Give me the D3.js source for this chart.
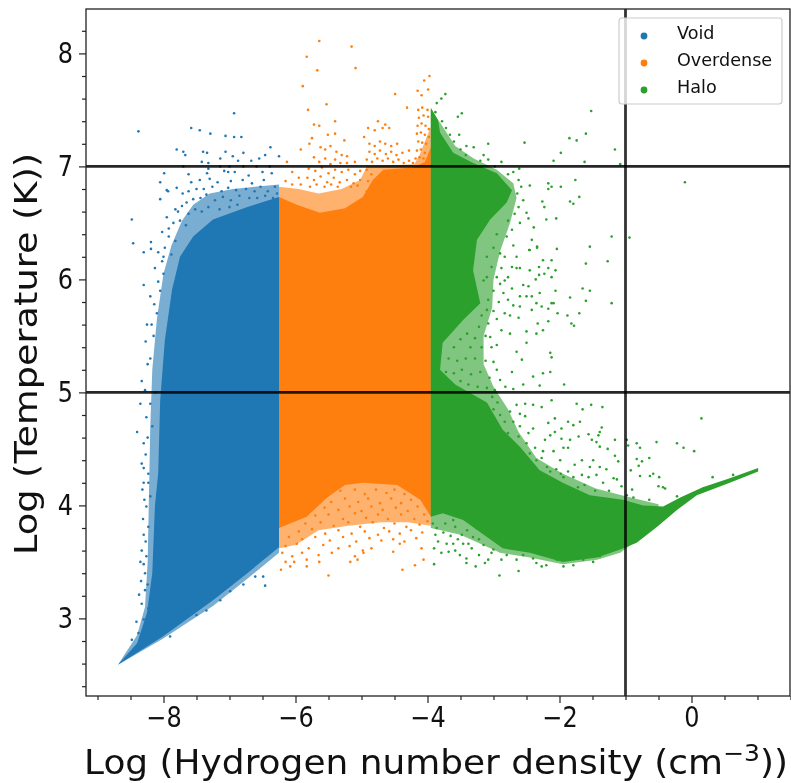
<!DOCTYPE html>
<html><head><meta charset="utf-8">
<script src="https://cdnjs.cloudflare.com/ajax/libs/d3/7.8.5/d3.min.js"></script>
<style>html,body{margin:0;padding:0;background:#fff}svg{display:block;filter:blur(0.5px)}text{font-family:"DejaVu Sans",sans-serif;fill:#111}</style>
</head><body><div id="c"></div>
<script>
const legendLabels=["Void","Overdense","Halo"];
const seriesColors=["#1f77b4","#ff7f0e","#2ca02c"];
const xMajor=[-8,-6,-4,-2,0];
const yMajor=[3,4,5,6,7,8];
const xMinor=[-9,-8.5,-7.5,-7,-6.5,-5.5,-5,-4.5,-3.5,-3,-2.5,-1.5,-1,-0.5,0.5,1,1.5];
const yMinor=[2.4,2.6,2.8,3.2,3.4,3.6,3.8,4.2,4.4,4.6,4.8,5.2,5.4,5.6,5.8,6.2,6.4,6.6,6.8,7.2,7.4,7.6,7.8,8.2];
const hLines=[7,5];
const vLines=[-1];
const voidEnvelope=[[-8.69,2.59],[-8.40,2.78],[-8.25,3.05],[-8.17,3.40],[-8.13,3.99],[-8.08,4.29],[-8.05,4.93],[-7.98,5.46],[-7.87,5.91],[-7.75,6.20],[-7.55,6.38],[-7.25,6.53],[-6.73,6.64],[-6.25,6.73],[-6.25,3.63],[-6.73,3.40],[-7.25,3.16],[-8.01,2.84]];
const voidFringe=[[-8.69,2.59],[-8.40,2.85],[-8.28,3.10],[-8.24,3.50],[-8.22,4.10],[-8.20,4.70],[-8.17,5.20],[-8.10,5.65],[-8.00,6.05],[-7.88,6.30],[-7.72,6.52],[-7.55,6.66],[-7.30,6.76],[-6.95,6.80],[-6.25,6.84],[-6.25,3.58],[-6.73,3.35],[-7.25,3.11],[-8.01,2.82]];
const overdenseEnvelope=[[-6.25,6.73],[-5.98,6.66],[-5.63,6.59],[-5.25,6.63],[-4.98,6.73],[-4.83,6.88],[-4.67,6.97],[-4.22,6.99],[-4.04,7.04],[-3.95,7.17],[-3.95,3.90],[-4.11,4.05],[-4.46,4.18],[-4.98,4.20],[-5.25,4.18],[-5.52,4.07],[-5.83,3.90],[-6.25,3.80]];
const overdenseFringe=[[-6.25,6.82],[-5.95,6.80],[-5.65,6.76],[-5.30,6.80],[-5.02,6.88],[-4.92,7.00],[-4.20,7.02],[-4.12,7.10],[-3.95,7.35],[-3.95,3.82],[-4.30,3.85],[-4.70,3.85],[-5.20,3.82],[-5.65,3.78],[-6.00,3.65],[-6.25,3.62]];
const haloEnvelope=[[-3.95,7.52],[-3.84,7.41],[-3.81,7.30],[-3.61,7.12],[-3.31,7.03],[-2.95,6.94],[-2.72,6.79],[-2.80,6.68],[-3.05,6.53],[-3.25,6.35],[-3.31,6.08],[-3.20,5.79],[-3.46,5.64],[-3.77,5.44],[-3.81,5.20],[-3.58,5.07],[-3.10,4.91],[-2.86,4.67],[-2.60,4.52],[-2.30,4.31],[-1.95,4.20],[-1.54,4.09],[-1.04,4.05],[-0.73,4.00],[-0.43,3.99],[-0.17,4.07],[0.17,4.16],[0.58,4.24],[1.01,4.33],[1.01,4.30],[0.58,4.20],[0.08,4.09],[-0.22,3.96],[-0.52,3.81],[-0.83,3.67],[-1.08,3.61],[-1.43,3.54],[-1.95,3.50],[-2.45,3.58],[-2.86,3.62],[-3.10,3.72],[-3.46,3.87],[-3.77,3.93],[-3.95,3.90]];
const haloFringe=[[-3.95,7.50],[-3.80,7.38],[-3.58,7.18],[-3.30,7.07],[-2.95,6.97],[-2.70,6.85],[-2.65,6.72],[-2.75,6.50],[-2.90,6.25],[-3.00,6.00],[-3.02,5.75],[-3.15,5.50],[-3.15,5.25],[-3.00,5.05],[-2.78,4.85],[-2.62,4.65],[-2.35,4.42],[-1.95,4.28],[-1.45,4.15],[-1.00,4.08],[-0.50,4.01],[-0.50,3.83],[-1.08,3.58],[-1.43,3.52],[-1.95,3.48],[-2.45,3.54],[-2.90,3.58],[-3.20,3.66],[-3.50,3.74],[-3.95,3.80]];
const voidPoints=[[-8.38,7.31],[-7.58,7.34],[-7.45,7.32],[-7.29,7.29],[-6.93,7.47],[-7.06,7.27],[-6.93,7.26],[-6.82,7.26],[-7.80,7.15],[-7.70,7.13],[-7.67,7.10],[-7.40,7.13],[-7.34,7.12],[-7.06,7.13],[-6.95,7.09],[-6.79,7.12],[-6.38,7.17],[-6.46,7.10],[-6.55,7.07],[-6.25,7.09],[-6.67,7.05],[-6.87,7.05],[-7.42,7.04],[-7.32,7.03],[-7.14,7.07],[-7.70,7.00],[-7.32,6.98],[-7.14,7.00],[-7.00,7.00],[-6.79,7.00],[-6.59,7.00],[-6.39,7.00],[-7.99,6.94],[-8.05,6.86],[-7.95,6.79],[-7.93,6.78],[-7.80,6.81],[-7.71,6.76],[-8.05,6.71],[-8.48,6.53],[-8.46,6.32],[-8.19,6.33],[-8.19,6.27],[-8.30,6.24],[-8.08,6.24],
[-7.62,6.93],[-7.34,6.94],[-7.08,6.96],[-7.02,6.95],[-6.92,6.95],[-6.71,6.92],[-6.50,6.95],[-6.36,6.94],[-7.58,6.86],[-7.45,6.88],[-7.30,6.89],[-7.18,6.86],[-6.98,6.87],[-6.80,6.88],[-6.66,6.85],[-6.48,6.88],[-6.31,6.82],[-7.62,6.78],[-7.50,6.80],[-7.39,6.80],[-7.26,6.82],[-7.12,6.78],[-7.02,6.81],[-6.90,6.79],[-6.75,6.80],[-6.62,6.78],[-6.53,6.82],[-6.42,6.78],[-6.28,6.76],[-7.65,6.68],[-7.55,6.71],[-7.44,6.72],[-7.35,6.75],[-7.22,6.70],[-7.10,6.73],[-6.98,6.70],[-6.85,6.74],[-6.70,6.72],[-6.58,6.72],[-6.46,6.74],[-6.34,6.72],[-7.82,6.62],[-7.72,6.65],[-7.62,6.58],[-7.52,6.62],[-7.42,6.60],[-7.32,6.64],[-7.15,6.62],[-7.00,6.64],[-6.88,6.66],[-7.95,6.55],[-7.85,6.50],[-7.75,6.52],[-7.66,6.48],[-8.02,6.42],[-7.92,6.38],[-7.82,6.34],[-7.98,6.28],[-7.88,6.22],[-8.02,6.16],[-8.13,6.10],[-8.00,6.05],[-8.05,5.90],[-8.30,5.95],[-8.20,5.85],[-8.10,5.70],[-8.25,5.60],[-8.15,5.50],[-8.20,5.30],[-8.33,5.10],[-8.35,4.90],[-8.12,5.00],[-8.20,4.90],[-8.17,4.70],[-8.40,4.65],[-8.30,4.55],[-8.33,4.37],[-8.30,4.33],[-8.23,4.28],[-8.32,4.14],[-8.23,4.20],[-8.26,3.99],[-8.20,4.08],[-8.23,3.81],[-8.27,3.68],[-8.35,3.50],[-8.26,3.55],[-8.28,3.40],[-8.37,3.21],[-8.28,3.25],[-8.33,3.13],[-8.23,3.09],[-8.41,2.97],[-8.38,2.87],[-8.30,2.99],[-8.48,2.81],[-7.90,2.84],[-7.50,3.03],[-7.35,3.07],[-7.14,3.16],[-6.99,3.24],[-6.79,3.30],[-6.61,3.37],[-6.46,3.29],[-6.49,3.37],[-6.74,3.46],[-6.54,3.58],[-6.39,3.59],[-6.29,3.67],
[-8.27,5.45],[-8.24,5.25],[-8.28,5.02],[-8.26,4.78],[-8.24,4.60],[-8.27,4.45],[-8.30,4.20],[-8.29,4.05],[-8.31,3.88],[-8.30,3.74],[-8.33,3.60],[-8.30,3.48],[-8.34,3.33],[-8.24,3.30],[-8.18,5.60],[-8.14,5.78],[-8.08,5.98],[-8.00,6.20],[-7.92,6.45],[-7.78,6.60]];
const overdensePoints=[[-5.64,8.11],[-5.15,8.06],[-5.83,7.97],[-5.67,7.85],[-5.09,7.87],[-5.89,7.71],[-5.81,7.50],[-5.53,7.55],[-5.40,7.40],[-5.72,7.37],[-5.64,7.36],[-5.51,7.28],[-5.40,7.29],[-5.26,7.23],[-5.75,7.25],[-5.79,7.20],[-5.92,7.15],[-6.13,7.04],[-4.49,7.64],[-4.31,7.52],[-3.97,7.80],[-4.05,7.76],[-4.15,7.67],[-3.99,7.68],[-4.09,7.63],[-4.75,7.40],[-4.64,7.37],[-4.90,7.34],[-4.80,7.32],[-4.58,7.34],[-4.68,7.34],[-4.96,7.26],
[-4.14,7.50],[-4.08,7.52],[-4.00,7.50],[-4.13,7.43],[-4.06,7.45],[-3.99,7.44],[-4.15,7.36],[-4.09,7.38],[-4.03,7.36],[-3.98,7.33],[-4.16,7.29],[-4.10,7.30],[-4.04,7.28],[-3.98,7.26],[-4.14,7.22],[-4.08,7.21],[-4.02,7.20],[-4.16,7.14],[-4.10,7.15],[-4.04,7.12],[-4.18,7.07],[-4.12,7.08],[-4.06,7.07],[-4.88,7.20],[-4.80,7.18],[-4.72,7.22],[-4.64,7.20],[-4.55,7.18],[-4.46,7.20],[-4.88,7.13],[-4.80,7.11],[-4.72,7.14],[-4.63,7.11],[-4.55,7.13],[-4.47,7.10],[-4.38,7.12],[-4.28,7.14],[-4.92,7.06],[-4.84,7.04],[-4.76,7.07],[-4.68,7.05],[-4.60,7.07],[-4.52,7.04],[-4.44,7.06],[-4.36,7.03],[-4.28,7.05],[-4.22,7.03],[-4.92,6.97],[-4.85,6.93],[-4.90,6.87],[-4.92,6.78],
[-5.62,7.17],[-5.55,7.15],[-5.47,7.18],[-5.38,7.13],[-5.30,7.10],[-5.22,7.09],[-5.72,7.08],[-5.64,7.04],[-5.55,7.07],[-5.47,7.02],[-5.40,7.06],[-5.32,7.03],[-5.22,7.03],[-5.10,7.04],[-5.80,6.98],[-5.70,6.96],[-5.60,6.99],[-5.50,6.94],[-5.40,6.97],[-5.30,6.95],[-5.20,6.97],[-5.10,6.93],[-5.02,6.96],[-6.05,6.95],[-5.95,6.90],[-5.82,6.90],[-5.72,6.88],[-5.62,6.91],[-5.52,6.86],[-5.42,6.90],[-5.33,6.86],[-5.22,6.88],[-5.12,6.85],[-5.02,6.88],[-6.15,6.87],[-6.05,6.84],[-5.92,6.84],[-5.78,6.82],[-5.68,6.84],[-5.56,6.82],[-5.46,6.84],[-5.36,6.82],[-5.16,6.82],[-5.06,6.83],
[-5.32,4.13],[-5.10,4.14],[-4.95,4.10],[-4.78,4.14],[-4.62,4.11],[-4.50,4.14],[-4.35,4.10],[-5.46,4.03],[-5.25,4.06],[-5.05,4.03],[-4.90,4.06],[-4.72,4.02],[-4.55,4.06],[-4.40,4.02],[-4.25,4.05],[-5.56,3.98],[-5.35,3.96],[-5.18,3.99],[-5.00,3.95],[-4.85,3.99],[-4.68,3.96],[-4.48,3.98],[-4.30,3.95],[-4.15,3.99],[-5.70,3.91],[-5.50,3.92],[-5.28,3.88],[-5.10,3.93],[-4.93,3.89],[-4.75,3.92],[-4.60,3.88],[-4.40,3.92],[-4.20,3.88],[-4.05,3.92],[-5.85,3.84],[-5.62,3.85],[-5.42,3.82],[-5.20,3.85],[-5.02,3.81],[-4.83,3.85],[-4.66,3.80],[-4.50,3.84],[-4.32,3.81],[-4.12,3.83],[-4.00,3.86],[-5.95,3.77],[-5.75,3.79],[-5.55,3.75],[-5.35,3.78],[-5.15,3.75],[-4.95,3.77],[-4.75,3.74],[-4.58,3.77],[-4.42,3.75],[-4.25,3.78],[-4.08,3.76],[-6.10,3.72],[-5.90,3.70],[-5.70,3.72],[-5.48,3.69],[-5.28,3.72],[-5.08,3.68],[-4.88,3.71],[-4.70,3.69],[-4.52,3.70],[-4.35,3.68],[-4.17,3.71],[-6.15,3.64],[-5.98,3.66],[-5.80,3.62],[-5.58,3.65],[-5.35,3.62],[-5.18,3.64],[-4.98,3.60],[-4.85,3.62],[-4.42,3.66],[-4.09,3.62],[-6.20,3.58],[-6.05,3.55],[-5.90,3.58],[-5.65,3.56],[-5.45,3.58],[-5.10,3.55],[-4.97,3.58],[-4.52,3.59],[-5.50,3.38],[-5.83,3.46],[-6.08,3.46],[-6.22,3.43],[-5.64,3.50],[-5.17,3.50],[-5.06,3.52],[-4.38,3.43],[-4.19,3.47],[-4.06,3.52],[-6.15,3.50],[-6.02,3.50],[-5.83,3.52]];
const haloPoints=[[-1.52,7.49],[-1.85,7.25],[-1.74,7.23],[-1.60,7.29],[-1.16,7.15],[-1.98,7.12],[-2.09,7.05],[-1.62,7.04],[-1.08,7.02],[-2.53,7.21],[-3.08,7.20],[-0.10,6.86],[-1.76,6.88],[-2.17,6.85],[-2.12,6.82],[-2.17,6.80],[-1.98,6.82],[-2.45,6.83],[-1.70,6.73],[-1.84,6.69],[-1.79,6.67],[-2.26,6.69],[-2.23,6.64],[-2.05,6.54],[-2.20,6.53],[-1.21,6.38],[-0.94,6.37],[-1.54,6.29],[-2.04,6.27],[-2.39,6.46],[-2.34,6.29],[-2.45,6.26],[-2.47,6.54],[-2.50,6.59],[-3.73,7.64],[-3.79,7.60],[-3.86,7.56],[-3.48,7.47],[-3.54,7.44],[-3.52,7.28],[-3.41,7.18],[-3.30,7.17],[-3.15,7.10],[-3.08,7.06],[-2.88,7.04],[-2.61,6.98],[-3.88,7.48],[-3.78,7.40],[-3.72,7.34],[-3.66,7.28],[-3.60,7.22],[-3.50,7.15],[-3.42,7.10],[-3.20,7.05],[-2.98,7.00],[-2.78,6.93],[-2.70,6.95],[-2.62,6.88],[-2.58,6.82],[-2.64,6.76],[-2.55,6.70],[-2.62,6.64],[-2.68,6.58],[-2.60,6.50],[-2.78,6.52],
[-1.60,6.14],[-1.27,6.16],[-1.21,5.79],[-1.60,5.81],[-1.65,5.92],[-1.54,5.90],[-1.84,5.84],[-1.70,5.70],[-1.88,5.68],[-1.82,5.61],[-1.78,5.59],[-2.03,5.70],[-2.06,5.90],[-2.09,5.79],[-2.12,6.02],[-2.06,6.08],[-2.12,6.17],[-2.17,6.10],[-2.25,6.17],[-2.23,6.05],[-2.31,6.11],[-2.31,6.04],[-2.36,6.00],[-2.30,5.88],[-2.45,6.08],[-2.46,6.26],[-2.42,6.35],[-2.34,6.28],[-2.65,6.10],[-2.60,6.10],[-2.72,6.11],[-2.55,5.95],[-2.47,5.94],[-2.60,5.85],[-2.50,5.85],[-2.42,5.85],[-2.35,5.79],[-2.12,5.79],[-2.27,5.76],[-2.17,5.74],[-2.42,5.73],[-2.60,5.76],[-2.70,5.77],[-2.62,5.66],[-2.33,5.61],[-2.17,5.63],[-2.25,5.55],[-2.35,5.52],[-2.50,5.54],[-2.50,5.44],[-2.14,5.35],[-2.12,5.31],[-2.65,5.36],[-2.57,5.29],[-2.75,5.52],[-2.88,5.55],[-2.83,5.70],[-2.85,5.88],[-2.83,5.99],[-2.90,5.96],[-3.00,5.90],[-3.08,5.82],[-3.10,5.73],[-3.08,5.61],[-3.05,5.49],[-3.03,5.40],[-3.00,5.27],[-2.95,5.20],[-2.72,5.18],[-2.90,5.11],[-2.14,5.18],[-2.25,5.17],[-2.40,5.14],[-2.55,5.07],[-2.30,5.06],[-1.93,5.07],[-2.80,6.38],[-2.72,6.44],[-2.70,6.30],[-2.65,6.20],[-2.83,6.20],[-2.90,6.23],[-3.03,6.11],[-3.10,6.20],[-3.15,5.99],[-2.95,6.40],[-3.00,6.28],[-2.88,6.10],[-2.95,6.02],[-3.10,6.02],[-2.78,6.02],[-2.72,5.92],[-2.92,5.80],[-3.00,5.72],[-2.78,5.82],[-2.95,5.65],[-2.75,5.68],[-3.18,5.68],[-3.22,5.58],[-3.12,5.50],[-2.95,5.42],[-3.28,5.48],[-3.18,5.40],[-3.40,5.52],[-3.35,5.40],[-3.50,5.47],[-3.60,5.40],[-3.68,5.30],[-3.55,5.28],[-3.42,5.30],[-3.28,5.30],[-3.12,5.28],[-3.72,5.18],[-3.60,5.17],[-3.48,5.20],[-3.34,5.16],[-3.20,5.18],[-3.06,5.13],[-3.50,5.10],[-3.38,5.07],[-3.24,5.05],[-3.10,5.04],[-2.98,5.02],[-2.82,5.05],[-2.70,5.03],
[0.15,4.77],[-1.74,4.90],[-1.65,4.85],[-1.52,4.89],[-1.35,4.87],[-2.12,4.93],[-1.36,4.69],[-1.39,4.65],[-1.41,4.62],[-1.56,4.63],[-1.51,4.58],[-1.44,4.56],[-1.16,4.58],[-0.98,4.58],[-0.96,4.53],[-0.83,4.55],[-0.78,4.51],[-0.53,4.56],[-0.22,4.55],[-0.12,4.51],[0.04,4.48],[-1.39,4.52],[-1.27,4.50],[-1.16,4.44],[-1.11,4.39],[-0.83,4.41],[-0.75,4.39],[-0.80,4.35],[-0.64,4.42],[-0.92,4.31],[-0.78,4.26],[-0.63,4.26],[-0.58,4.28],[-0.49,4.25],[-0.50,4.17],[-0.43,4.16],[-0.40,4.15],[0.32,4.25],[0.63,4.27],[-0.64,4.05],[-0.90,4.14],[-0.22,4.08],[-1.66,4.40],[-1.49,4.40],[-1.39,4.34],[-1.29,4.32],[-1.54,4.34],[-1.77,4.36],[-1.87,4.30],[-1.94,4.25],[-1.79,4.25],[-1.66,4.27],[-1.56,4.25],[-1.44,4.27],[-1.34,4.20],[-1.18,4.24],[-1.13,4.23],[-1.06,4.17],[-1.99,4.40],[-2.19,4.34],[-2.14,4.30],[-2.45,4.46],[-2.25,4.48],[-2.09,4.48],[-1.94,4.51],[-1.87,4.51],[-2.22,4.58],[-1.97,4.59],[-1.84,4.58],[-2.14,4.62],[-2.07,4.65],[-1.97,4.68],[-1.71,4.61],[-2.17,4.73],[-2.07,4.77],[-1.87,4.74],[-1.79,4.71],[-1.69,4.74],[-2.40,4.68],[-2.52,4.79],[-2.40,4.89],[-2.27,4.87],[-2.52,4.90],[-2.65,4.89],[-2.75,4.83],[-2.83,4.74],[-2.70,4.74],[-2.60,4.70],[-2.47,4.64],[-2.62,4.61],[-2.50,4.55],[-2.37,4.51],[-2.27,4.42],[-2.60,4.81],[-2.35,4.40],[-2.42,4.34],[-2.22,4.26],[-2.05,4.32],[-1.98,4.28],[-1.72,4.16],[-1.62,4.18],[-1.46,4.13],[-1.25,4.13],[-0.98,4.09],[-0.88,4.07],[-2.94,4.91],[-3.00,4.85],[-2.90,4.80],[-3.02,4.96],[-2.78,4.64],
[-3.90,3.48],[-3.79,3.58],[-3.68,3.59],[-3.51,3.56],[-3.41,3.53],[-3.41,3.49],[-3.27,3.46],[-3.13,3.49],[-3.08,3.52],[-2.91,3.38],[-2.62,3.42],[-2.65,3.52],[-2.88,3.52],[-2.35,3.49],[-2.27,3.46],[-2.20,3.47],[-1.94,3.46],[-1.79,3.47],[-1.49,3.50],[-3.22,3.56],[-3.03,3.58],[-3.61,3.66],[-3.84,3.68],[-3.71,3.66],[-3.46,3.66],[-3.31,3.72],[-3.58,3.81],[-3.73,3.84],[-3.86,3.80],[-3.48,3.74],[-3.33,3.62],[-3.15,3.65],[-3.00,3.61],[-3.79,3.94],[-3.61,3.87],[-3.46,3.92],[-3.26,3.80],[-2.80,3.56],[-2.55,3.56],[-2.40,3.53],[-2.04,3.52],[-1.64,3.52],[-1.39,3.55],[-3.88,3.74],[-3.76,3.76],[-3.65,3.73],[-3.54,3.70],[-3.40,3.78],[-3.22,3.70],[-3.90,3.62],[-3.58,3.60],[-3.38,3.66],[-3.92,3.84]];

const W=791,H=783,L=86,R=790,T=9,B=696;
const x=d3.scaleLinear().domain([(L-691.5)/66,(R-691.5)/66]).range([L,R]);
const y=d3.scaleLinear().domain([5-(B-392.4)/113,5-(T-392.4)/113]).range([B,T]);
const svg=d3.select("#c").append("svg").attr("width",W).attr("height",H);
const toPath=d3.line().x(d=>x(d[0])).y(d=>y(d[1])).curve(d3.curveLinearClosed);
const groups=[[voidEnvelope,voidFringe,voidPoints,.6],[overdenseEnvelope,overdenseFringe,overdensePoints,.6],[haloEnvelope,haloFringe,haloPoints,.6]];
groups.forEach(([env,fringe,pts,op],i)=>{
  const g=svg.append("g").attr("fill",seriesColors[i]);
  g.append("path").attr("d",toPath(fringe)).attr("fill-opacity",op);
  g.selectAll("circle").data(pts).join("circle").attr("cx",d=>x(d[0])).attr("cy",d=>y(d[1])).attr("r",1.3);
  g.append("path").attr("d",toPath(env));
});
svg.selectAll(".h").data(hLines).join("line").attr("x1",L).attr("x2",R).attr("y1",d=>y(d)).attr("y2",d=>y(d)).attr("stroke","#000").attr("stroke-opacity",.85).attr("stroke-width",2.8);
svg.selectAll(".v").data(vLines).join("line").attr("y1",T).attr("y2",B).attr("x1",d=>x(d)).attr("x2",d=>x(d)).attr("stroke","#000").attr("stroke-opacity",.8).attr("stroke-width",2.8);
const fmt=d=>String(d).replace("-","\u2212");
function ax(a,tr){const g=svg.append("g").attr("transform",tr).call(a);g.select(".domain").remove();g.selectAll("line").attr("stroke","#222").attr("stroke-width",1.2);return g;}
const xa=ax(d3.axisBottom(x).tickValues(xMajor).tickSize(7).tickPadding(3).tickFormat(fmt),`translate(0,${B})`);
const ya=ax(d3.axisLeft(y).tickValues(yMajor).tickSize(7).tickPadding(6).tickFormat(fmt),`translate(${L},0)`);
ax(d3.axisBottom(x).tickValues(xMinor).tickSize(4).tickFormat(""),`translate(0,${B})`);
ax(d3.axisLeft(y).tickValues(yMinor).tickSize(4).tickFormat(""),`translate(${L},0)`);
[xa,ya].forEach(g=>g.selectAll("text").style("font-size","24px").style("font-family",'"DejaVu Sans"').attr("fill","#111").attr("transform","scale(1,1.15)"));
svg.append("rect").attr("x",L).attr("y",T).attr("width",R-L).attr("height",B-T).attr("fill","none").attr("stroke","#222").attr("stroke-width",1.3);
const xl=svg.append("text").attr("x",84).attr("y",774).style("font-size","33px").attr("textLength",704).attr("lengthAdjust","spacingAndGlyphs");
xl.append("tspan").text("Log (Hydrogen number density (cm");
xl.append("tspan").attr("dy",-13).style("font-size","23px").text("\u22123");
xl.append("tspan").attr("dy",13).text("))");
svg.append("text").attr("transform","translate(37,354) rotate(-90)").attr("text-anchor","middle").style("font-size","32px").attr("textLength",402).attr("lengthAdjust","spacingAndGlyphs").text("Log (Temperature (K))");
const leg=svg.append("g");
leg.append("rect").attr("x",619).attr("y",18).attr("width",163).attr("height",86).attr("rx",3).attr("fill","#fff").attr("fill-opacity",.8).attr("stroke","#ccc").attr("stroke-width",1.2);
legendLabels.forEach((t,i)=>{
  leg.append("circle").attr("cx",644).attr("cy",36+27*i).attr("r",3.4).attr("fill",seriesColors[i]);
  leg.append("text").attr("x",677).attr("y",39+27*i).style("font-size","17.6px").text(t);
});
</script></body></html>
